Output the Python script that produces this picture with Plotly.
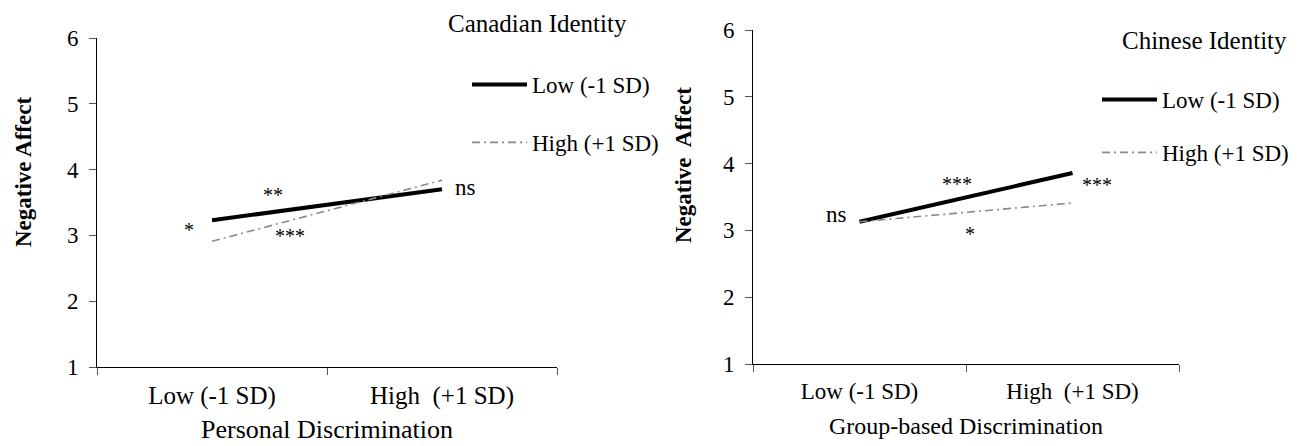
import plotly.graph_objects as go

W, H = 1302, 446

categories = ["Low (-1 SD)", "High  (+1 SD)"]
series_names = ["Low (-1 SD)", "High (+1 SD)"]

# Left panel: Canadian identity, personal discrimination
canadian_low = [3.23, 3.70]
canadian_high = [2.91, 3.84]
# Right panel: Chinese identity, group-based discrimination
chinese_low = [3.13, 3.86]
chinese_high = [3.13, 3.41]

y_ticks = [1, 2, 3, 4, 5, 6]

FONT = "Liberation Serif"
GREY = "#8a8a8a"
HIGH_DASH = "8px,4px,2px,4px"

def px_x(p):
    return p / W

def px_y(p):
    return (H - p) / H

fig = go.Figure()

fig.add_trace(go.Scatter(x=categories, y=canadian_low, mode="lines", name=series_names[0],
                         line=dict(color="black", width=4), xaxis="x", yaxis="y",
                         legend="legend", legendgroup="a"))
fig.add_trace(go.Scatter(x=categories, y=canadian_high, mode="lines", name=series_names[1],
                         line=dict(color=GREY, width=1.6, dash=HIGH_DASH), xaxis="x", yaxis="y",
                         legend="legend", legendgroup="b"))
fig.add_trace(go.Scatter(x=categories, y=chinese_low, mode="lines", name=series_names[0],
                         line=dict(color="black", width=4), xaxis="x2", yaxis="y2",
                         legend="legend2", legendgroup="c"))
fig.add_trace(go.Scatter(x=categories, y=chinese_high, mode="lines", name=series_names[1],
                         line=dict(color=GREY, width=1.6, dash=HIGH_DASH), xaxis="x2", yaxis="y2",
                         legend="legend2", legendgroup="d"))

xcommon = dict(type="category", range=[-0.5, 1.5], tickson="boundaries", ticks="outside",
               ticklen=7, tickcolor="#555", tickwidth=1, showline=True, linecolor="black",
               linewidth=1, showgrid=False, zeroline=False, automargin=False,
               ticklabelstandoff=6)
ycommon = dict(range=[1, 6], tickvals=y_ticks, ticks="outside", ticklen=7, tickcolor="#555",
               showline=True, linecolor="black", linewidth=1, showgrid=False, zeroline=False,
               automargin=False, tickfont=dict(family=FONT, size=23, color="black"),
               ticklabelstandoff=6)

fig.update_layout(
    width=W, height=H,
    margin=dict(l=0, r=0, t=0, b=0),
    paper_bgcolor="white", plot_bgcolor="white",
    font=dict(family=FONT, color="black"),
    xaxis=dict(xcommon, domain=[px_x(97), px_x(557)], anchor="y",
               tickfont=dict(family=FONT, size=25, color="black"),
               title=dict(text="Personal Discrimination", font=dict(family=FONT, size=26), standoff=10)),
    yaxis=dict(ycommon, domain=[px_y(367), px_y(38)], anchor="x"),
    xaxis2=dict(xcommon, domain=[px_x(753), px_x(1179)], anchor="y2",
                tickfont=dict(family=FONT, size=23, color="black"),
                title=dict(text="Group-based Discrimination", font=dict(family=FONT, size=24), standoff=14)),
    yaxis2=dict(ycommon, domain=[px_y(364), px_y(30)], anchor="x2"),
    legend=dict(x=px_x(467), y=px_y(63), xanchor="left", yanchor="top", bgcolor="rgba(0,0,0,0)",
                font=dict(family=FONT, size=23, color="black"), tracegroupgap=25, itemwidth=55),
    legend2=dict(x=px_x(1097), y=px_y(78), xanchor="left", yanchor="top", bgcolor="rgba(0,0,0,0)",
                 font=dict(family=FONT, size=23, color="black"), tracegroupgap=20, itemwidth=55),
    showlegend=True,
)

annotations = [
    # y-axis titles
    dict(text="<b>Negative Affect</b>", x=px_x(23), y=px_y(172), textangle=-90, font=dict(size=23)),
    dict(text="<b>Negative  Affect</b>", x=px_x(684), y=px_y(165), textangle=-90, font=dict(size=23)),
    # panel labels
    dict(text="Canadian Identity", x=px_x(537), y=px_y(23), font=dict(size=25)),
    dict(text="Chinese Identity", x=px_x(1204), y=px_y(40), font=dict(size=25)),
    # significance marks, left
    dict(text="*", x=px_x(189), y=px_y(230), font=dict(size=20)),
    dict(text="**", x=px_x(273), y=px_y(195), font=dict(size=20)),
    dict(text="***", x=px_x(290), y=px_y(236), font=dict(size=20)),
    dict(text="ns", x=px_x(465), y=px_y(187), font=dict(size=23)),
    # significance marks, right
    dict(text="ns", x=px_x(836), y=px_y(215), font=dict(size=23)),
    dict(text="***", x=px_x(957), y=px_y(184), font=dict(size=20)),
    dict(text="***", x=px_x(1097), y=px_y(185), font=dict(size=20)),
    dict(text="*", x=px_x(970), y=px_y(234), font=dict(size=20)),
]
for a in annotations:
    a.update(xref="paper", yref="paper", showarrow=False, xanchor="center", yanchor="middle")
    a["font"] = dict(family=FONT, color="black", **a["font"])
fig.update_layout(annotations=annotations)

fig.write_html("out.html", config={"displayModeBar": False},
               post_script="document.body.style.margin='0';document.body.style.overflow='hidden';")
